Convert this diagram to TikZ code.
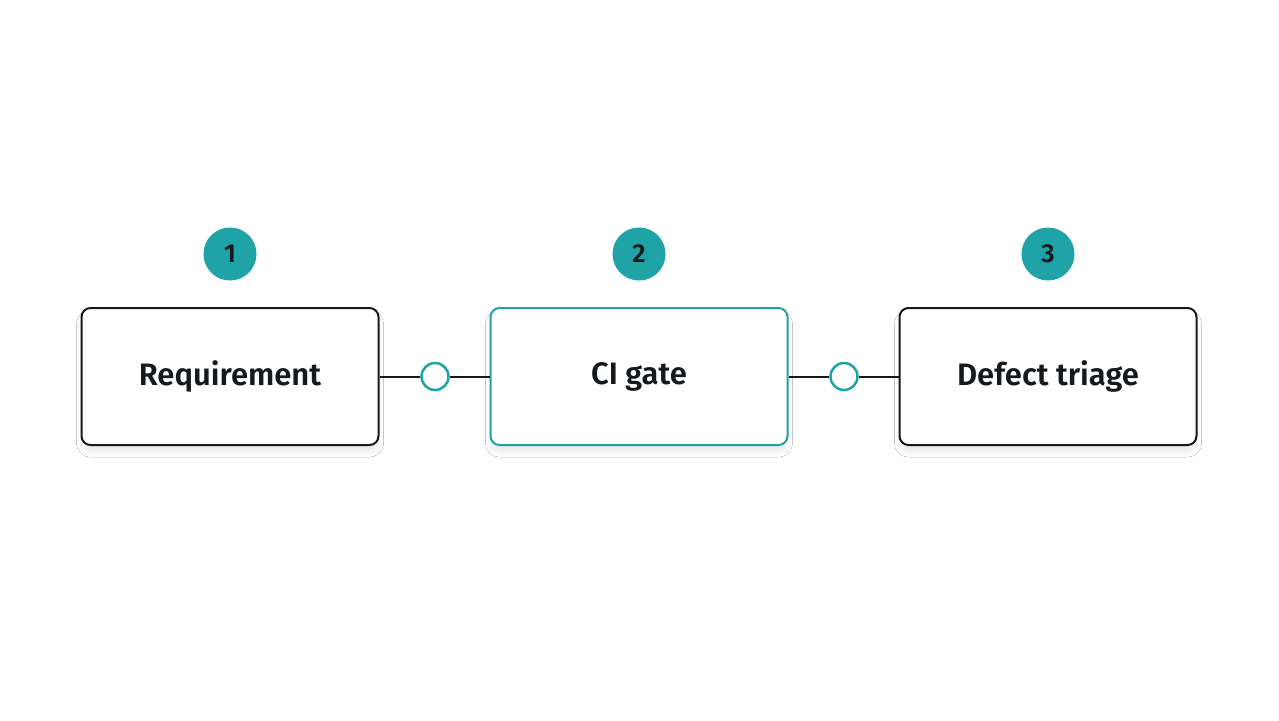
\documentclass[tikz,border=0pt]{standalone}
\usepackage{fontspec}
\setmainfont{Fira Sans}[BoldFont={Fira Sans SemiBold}]
\usetikzlibrary{shadows.blur}
\definecolor{teal1}{HTML}{1FA3A6}
\definecolor{ink}{HTML}{15191C}
\begin{document}
\begin{tikzpicture}[x=1pt,y=-1pt,
  box/.style={draw=ink,line width=2pt,rounded corners=9pt,minimum width=297pt,minimum height=137pt,fill=white,font=\fontsize{31}{36}\selectfont\bfseries,text=ink,blur shadow={shadow blur steps=10,shadow blur radius=5pt,shadow xshift=0pt,shadow yshift=-7pt,shadow opacity=8}},
  num/.style={circle,fill=teal1,minimum size=53pt,inner sep=0pt,text=ink,font=\fontsize{26}{30}\selectfont\bfseries},
  port/.style={circle,draw=teal1,line width=2.5pt,fill=white,minimum size=27pt,inner sep=0pt},
  link/.style={draw=ink,line width=2pt}]
\useasboundingbox[fill=white] (0,0) rectangle (1279,720);
\node[box] (b1) at (230,376.5) {Requirement};
\node[box,draw=teal1] (b2) at (639,376.5) {CI gate};
\node[box] (b3) at (1048,376.5) {Defect triage};
\node[num] (n1) at (230,254) {1};
\node[num] (n2) at (639,254) {2};
\node[num] (n3) at (1048,254) {3};
\node[port] (p1) at (435,376.5) {};
\node[port] (p2) at (844,376.5) {};
\draw[link] (b1.east) -- (p1.west);
\draw[link] (p1.east) -- (b2.west);
\draw[link] (b2.east) -- (p2.west);
\draw[link] (p2.east) -- (b3.west);
\end{tikzpicture}
\end{document}
